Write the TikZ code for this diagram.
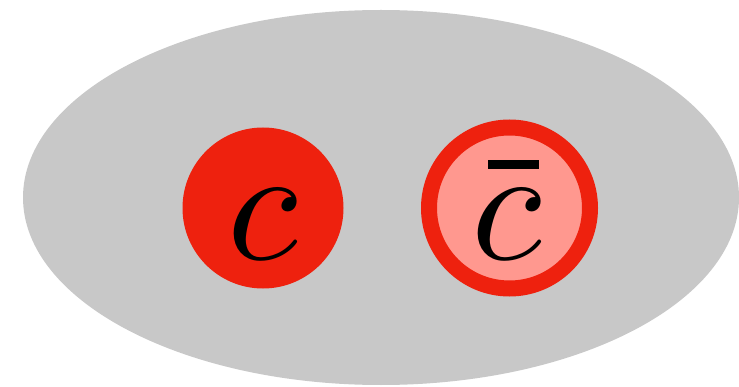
\documentclass[tikz,border=0pt]{standalone}
\usepackage{xcolor}
\usepackage{tikz}
\usetikzlibrary{shapes.geometric}
\definecolor{quarkred}{RGB}{238,33,14}
\definecolor{antired}{RGB}{255,152,143}
\definecolor{blobgray}{RGB}{200,200,200}
\newcommand{\heavybar}[1]{\rlap{\kern1pt\rule[5.5pt]{3.1pt}{0.55pt}}#1}

\begin{document}
\begin{tikzpicture}[
    x=1pt, y=1pt,
    blob/.style={ellipse, fill=blobgray, minimum width=716pt, minimum height=375pt, inner sep=0pt},
    quark/.style={circle, fill=quarkred, minimum size=161pt, inner sep=0pt},
    antiquark/.style={circle, draw=quarkred, line width=16pt, fill=antired, minimum size=161pt, inner sep=0pt},
    flavour/.style={anchor=base, inner sep=0pt, scale=16.3}
]
    \useasboundingbox (0,0) rectangle (739,386);

    % Hadron
    \node[blob] (meson) at (381,188.5) {};

    % Quark and antiquark
    \node[quark] (q) at (263,178) {};
    \node[antiquark] (qbar) at (509.5,178) {};

    % Labels
    \node[flavour] (qlabel) at (263,127) {$c$};
    \node[flavour] (qbarlabel) at (507,127) {$\heavybar{c}$};
\end{tikzpicture}
\end{document}
